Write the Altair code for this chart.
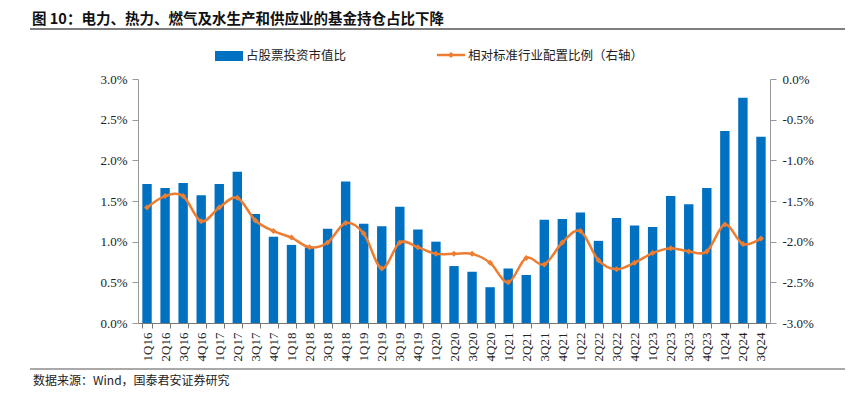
import altair as alt
import pandas as pd

quarters = ["1Q16", "2Q16", "3Q16", "4Q16", "1Q17", "2Q17", "3Q17", "4Q17",
            "1Q18", "2Q18", "3Q18", "4Q18", "1Q19", "2Q19", "3Q19", "4Q19",
            "1Q20", "2Q20", "3Q20", "4Q20", "1Q21", "2Q21", "3Q21", "4Q21",
            "1Q22", "2Q22", "3Q22", "4Q22", "1Q23", "2Q23", "3Q23", "4Q23",
            "1Q24", "2Q24", "3Q24"]
share = [1.71, 1.66, 1.72, 1.57, 1.71, 1.86, 1.34, 1.06,
         0.96, 0.93, 1.16, 1.74, 1.22, 1.19, 1.43, 1.15,
         1.00, 0.70, 0.63, 0.44, 0.67, 0.59, 1.27, 1.28,
         1.36, 1.01, 1.29, 1.20, 1.18, 1.56, 1.46, 1.66,
         2.36, 2.77, 2.29]
relative = [-1.58, -1.44, -1.44, -1.75, -1.58, -1.46, -1.74, -1.87,
            -1.95, -2.07, -2.01, -1.77, -1.90, -2.33, -2.01, -2.07,
            -2.15, -2.15, -2.15, -2.26, -2.50, -2.20, -2.28, -2.01,
            -1.87, -2.23, -2.34, -2.26, -2.14, -2.08, -2.12, -2.12,
            -1.79, -2.03, -1.96]
left_ticks = [0, 0.5, 1.0, 1.5, 2.0, 2.5, 3.0]
right_ticks = [-3.0, -2.5, -2.0, -1.5, -1.0, -0.5, 0.0]

title_text = "图  10：电力、热力、燃气及水生产和供应业的基金持仓占比下降"
legend_bar = "占股票投资市值比"
legend_line = "相对标准行业配置比例（右轴）"
source_text = "数据来源：Wind，国泰君安证券研究"

BLUE = "#0070C0"
ORANGE = "#ED7D31"
SERIF = "Liberation Serif"
CJK = "Noto Sans CJK SC"

df = pd.DataFrame({"q": quarters, "share": share, "rel": relative})
one = pd.DataFrame({"k": [0]})

fmt = "(datum.value < 0 ? '-' : '') + format(abs(datum.value), '.1f') + '%'"

xenc = alt.X("q:N", sort=quarters, title=None,
             scale=alt.Scale(paddingInner=0.48, paddingOuter=0.24),
             axis=alt.Axis(labelAngle=270, labelFont=SERIF, labelFontSize=13,
                           labelColor="#222", tickBand="extent", tickSize=5,
                           domainColor="#777", tickColor="#777", labelPadding=4))

bars = alt.Chart(df).mark_bar(color=BLUE).encode(
    x=xenc,
    y=alt.Y("share:Q", title=None,
            scale=alt.Scale(domain=[0, 3]),
            axis=alt.Axis(values=left_ticks, labelExpr=fmt, grid=False,
                          labelFont=SERIF, labelFontSize=13, labelColor="#222",
                          domainColor="#999", tickColor="#999", tickSize=6,
                          labelPadding=5, orient="left")),
)

line = alt.Chart(df).mark_line(
    color=ORANGE, strokeWidth=2.5, interpolate="cardinal",
    point=alt.OverlayMarkDef(shape="diamond", filled=True, size=36, color=ORANGE),
).encode(
    x=alt.X("q:N", sort=quarters),
    y=alt.Y("rel:Q", title=None,
            scale=alt.Scale(domain=[-3, 0]),
            axis=alt.Axis(values=right_ticks, labelExpr=fmt, grid=False,
                          labelFont=SERIF, labelFontSize=13, labelColor="#222",
                          domainColor="#999", tickColor="#999", tickSize=6,
                          labelPadding=6, orient="right")),
)

title = alt.Chart(one).mark_text(
    align="left", baseline="middle", font=CJK, fontSize=14.5, fontWeight="bold", color="#111"
).encode(x=alt.value(-106), y=alt.value(-59), text=alt.value(title_text))

title_rule = alt.Chart(one).mark_rule(color="#555", strokeWidth=1.5).encode(
    x=alt.value(-108), x2=alt.value(707), y=alt.value(-50))

leg_rect = alt.Chart(one).mark_rect(color=BLUE).encode(
    x=alt.value(77), x2=alt.value(105), y=alt.value(-28), y2=alt.value(-18))
leg_text1 = alt.Chart(one).mark_text(
    align="left", baseline="middle", font=CJK, fontSize=12.5, color="#222"
).encode(x=alt.value(108), y=alt.value(-23), text=alt.value(legend_bar))

leg_line = alt.Chart(one).mark_rule(color=ORANGE, strokeWidth=2.5).encode(
    x=alt.value(299), x2=alt.value(327), y=alt.value(-24))
leg_pt = alt.Chart(one).mark_point(shape="diamond", filled=True, size=36, color=ORANGE, opacity=1).encode(
    x=alt.value(313), y=alt.value(-24))
leg_text2 = alt.Chart(one).mark_text(
    align="left", baseline="middle", font=CJK, fontSize=12.5, color="#222"
).encode(x=alt.value(330), y=alt.value(-23), text=alt.value(legend_line))

src_rule = alt.Chart(one).mark_rule(color="#555", strokeWidth=1.2).encode(
    x=alt.value(-108), x2=alt.value(707), y=alt.value(290))
src_text = alt.Chart(one).mark_text(
    align="left", baseline="middle", font=CJK, fontSize=12, color="#222"
).encode(x=alt.value(-105), y=alt.value(302), text=alt.value(source_text))

chart = alt.layer(
    bars, line, title, title_rule, leg_rect, leg_text1, leg_line, leg_pt, leg_text2,
    src_rule, src_text
).resolve_scale(y="independent").properties(
    width=632, height=244,
    autosize=alt.AutoSizeParams(type="none"),
    padding={"left": 130, "top": 71, "right": 75, "bottom": 67},
    background="white",
).configure_view(stroke=None)

chart.save("out.html", embed_options={"renderer": "svg", "actions": False})
